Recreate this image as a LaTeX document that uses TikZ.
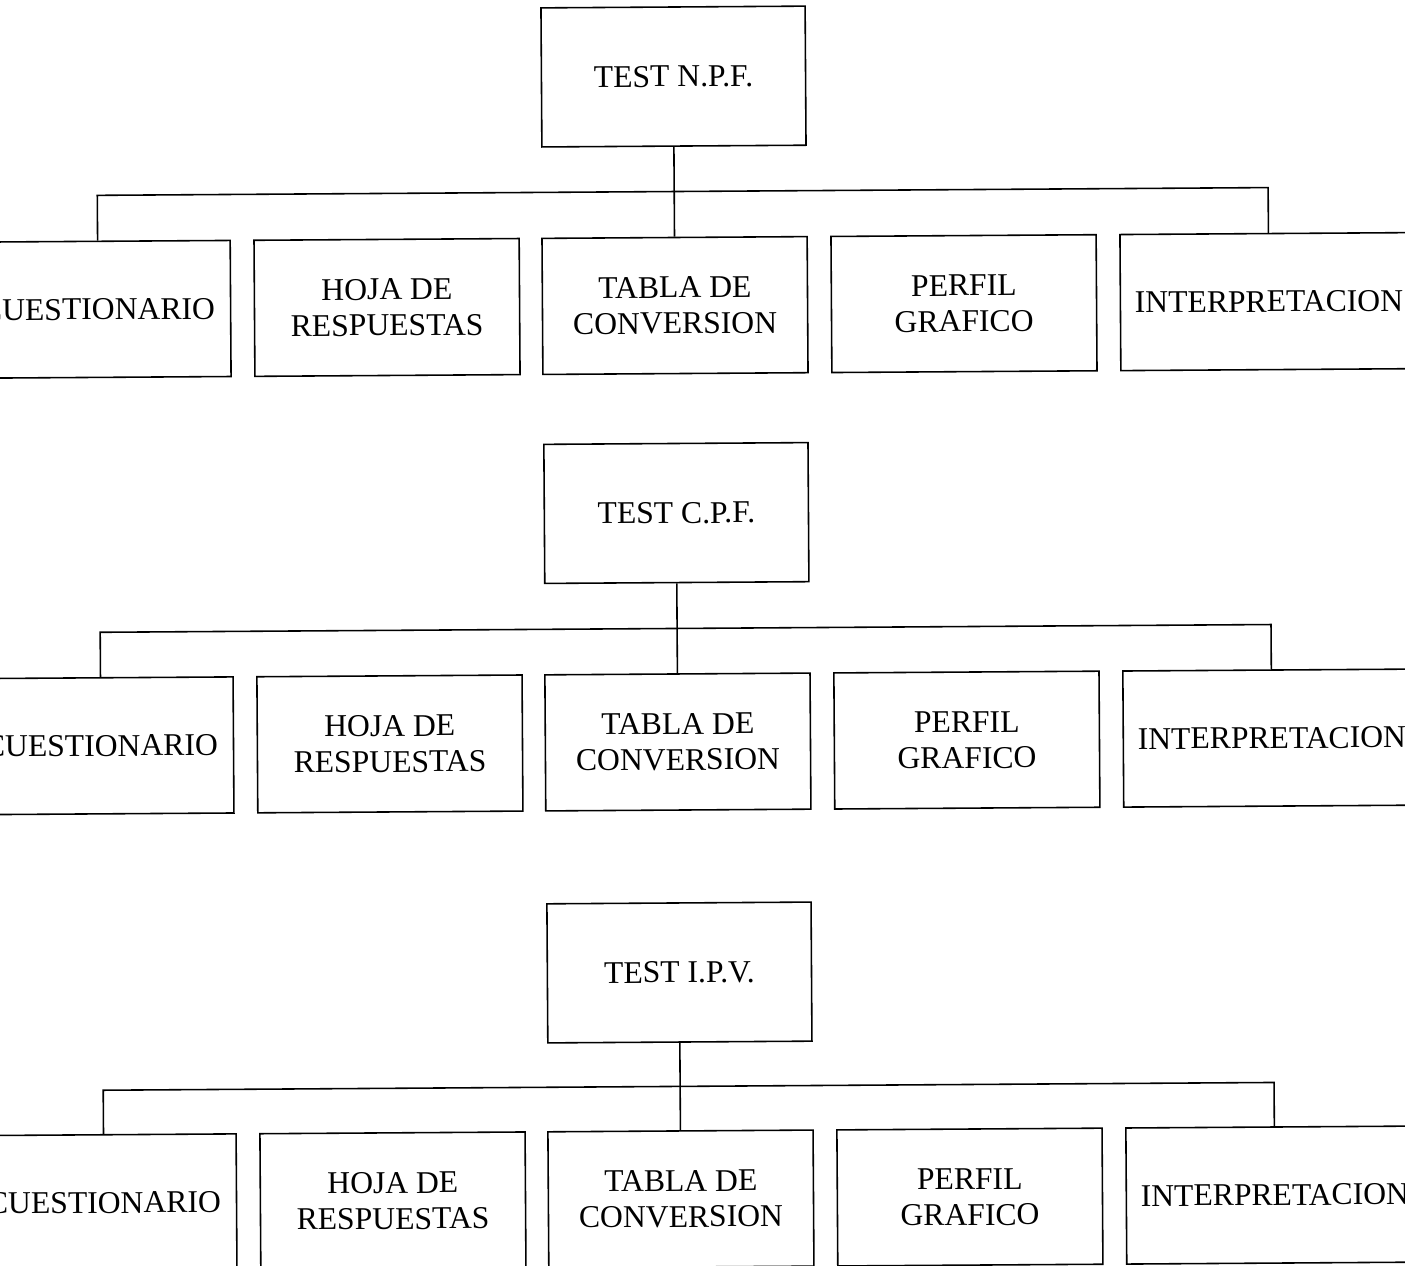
\documentclass[tikz,border=0pt]{standalone}
\usepackage{fontspec}
\setmainfont{Liberation Serif}
\tikzset{
	caja/.style={draw, black, line width=0.45pt, minimum width=2.65cm, minimum height=1.36cm,
		align=center, inner sep=0pt, font=\fontsize{9}{10.2}\selectfont},
	raiz/.style={caja, minimum width=2.64cm, minimum height=1.39cm},
	ancha/.style={caja, minimum width=2.97cm},
	linea/.style={draw, black, line width=0.45pt}
}
\begin{document}
\begin{tikzpicture}[x=0.01cm, y=-0.01cm]
	\useasboundingbox (0,0) rectangle (1405,1266);
	\clip (0,0) rectangle (1405,1266);
	% the scan is a bit skewed
	\begin{scope}[rotate=0.38, transform shape]
	% N.P.F.
	\node[raiz] (npf) at (673,81) {TEST N.P.F.};
	\node[caja] (npfcue) at (96,310) {CUESTIONARIO};
	\node[caja] (npfhoja) at (385,310) {HOJA DE\\RESPUESTAS};
	\node[caja] (npftab) at (673,310) {TABLA DE\\CONVERSION};
	\node[caja] (npfper) at (962,310) {PERFIL\\GRAFICO};
	\node[ancha] (npfint) at (1267,310) {INTERPRETACION};
	\coordinate (npfizq) at (96,196);
	\coordinate (npfder) at (1267,196);
	\draw[linea] (npf.south) -- (npftab.north);
	\draw[linea] (npfcue.north) -- (npfizq) -- (npfder) -- (npfint.north);
	
	% C.P.F.
	\node[raiz] (cpf) at (673,517.5) {TEST C.P.F.};
	\node[caja] (cpfcue) at (96,746.5) {CUESTIONARIO};
	\node[caja] (cpfhoja) at (385,746.5) {HOJA DE\\RESPUESTAS};
	\node[caja] (cpftab) at (673,746.5) {TABLA DE\\CONVERSION};
	\node[caja] (cpfper) at (962,746.5) {PERFIL\\GRAFICO};
	\node[ancha] (cpfint) at (1267,746.5) {INTERPRETACION};
	\coordinate (cpfizq) at (96,633);
	\coordinate (cpfder) at (1267,633);
	\draw[linea] (cpf.south) -- (cpftab.north);
	\draw[linea] (cpfcue.north) -- (cpfizq) -- (cpfder) -- (cpfint.north);
	
	% I.P.V.
	\node[raiz] (ipv) at (673,977) {TEST I.P.V.};
	\node[caja] (ipvcue) at (96,1203.5) {CUESTIONARIO};
	\node[caja] (ipvhoja) at (385,1203.5) {HOJA DE\\RESPUESTAS};
	\node[caja] (ipvtab) at (673,1203.5) {TABLA DE\\CONVERSION};
	\node[caja] (ipvper) at (962,1203.5) {PERFIL\\GRAFICO};
	\node[ancha] (ipvint) at (1267,1203.5) {INTERPRETACION};
	\coordinate (ipvizq) at (96,1091);
	\coordinate (ipvder) at (1267,1091);
	\draw[linea] (ipv.south) -- (ipvtab.north);
	\draw[linea] (ipvcue.north) -- (ipvizq) -- (ipvder) -- (ipvint.north);
	\end{scope}
\end{tikzpicture}
\end{document}
